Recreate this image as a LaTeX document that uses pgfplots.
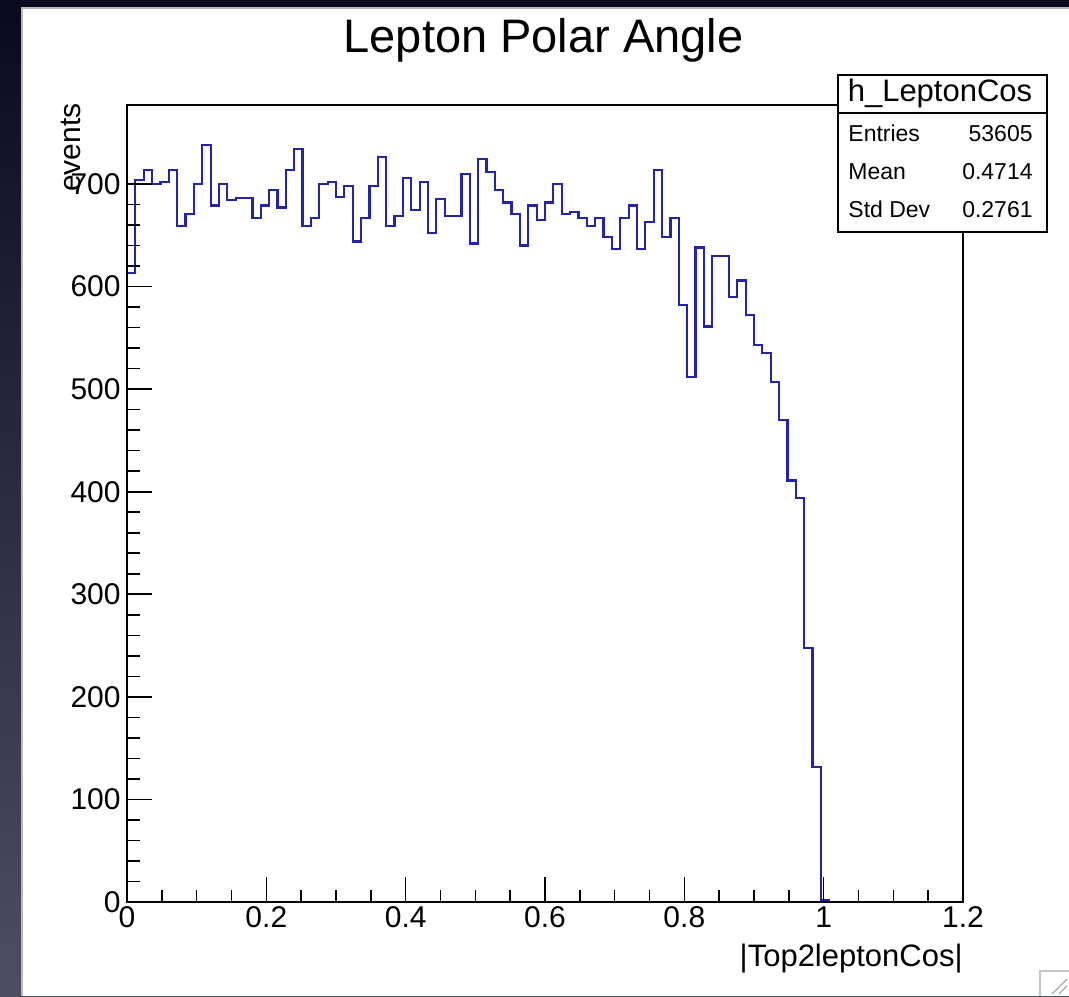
\documentclass[border=0pt]{standalone}
\usepackage{pgfplots}
\pgfplotsset{compat=1.18}
\usepackage{pgfplotstable}
\usepackage{fontspec}
\setmainfont{Liberation Sans}
\definecolor{histblue}{RGB}{35,35,175}
\definecolor{bgtop}{RGB}{10,10,30}
\definecolor{bgbot}{RGB}{78,78,98}

\pgfplotstableread{
x y
0 0
0 613
0.012 704
0.024 714
0.036 700
0.048 702
0.06 714
0.072 659
0.084 671
0.096 700
0.108 738
0.12 679
0.132 700
0.144 684
0.156 686
0.168 686
0.18 667
0.192 679
0.204 694
0.216 677
0.228 714
0.24 734
0.252 659
0.264 667
0.276 700
0.288 702
0.3 687
0.312 698
0.324 644
0.336 667
0.348 698
0.36 726
0.372 659
0.384 669
0.396 706
0.408 675
0.42 702
0.432 652
0.444 685
0.456 669
0.468 669
0.48 710
0.492 642
0.504 724
0.516 712
0.528 694
0.54 682
0.552 671
0.564 640
0.576 679
0.588 665
0.6 682
0.612 700
0.624 671
0.636 673
0.648 667
0.66 659
0.672 667
0.684 648
0.696 637
0.708 667
0.72 679
0.732 637
0.744 663
0.756 714
0.768 648
0.78 667
0.792 582
0.804 512
0.816 638
0.828 561
0.84 630
0.852 630
0.864 590
0.876 606
0.888 572
0.9 543
0.912 535
0.924 507
0.936 470
0.948 411
0.96 394
0.972 248
0.984 132
0.996 2
1.008 0
}\histdata

\begin{document}
\begin{tikzpicture}
\useasboundingbox (0,0) rectangle (534.5pt,498pt);
\shade[top color=bgtop, bottom color=bgbot] (0,0) rectangle (534.5pt,498pt);
\fill[white] (11pt,0) rectangle (534.5pt,494pt);
\draw[gray!55, line width=0.7pt] (11pt,0) -- (11pt,494pt) -- (534.5pt,494pt);
\begin{axis}[
  at={(63.5pt,47pt)}, anchor=south west,
  scale only axis, width=418pt, height=398.5pt,
  xmin=0, xmax=1.2, ymin=0, ymax=777,
  axis line style={line width=0.8pt},
  axis on top,
  xtick={0,0.2,0.4,0.6,0.8,1,1.2},
  xticklabels={0,0.2,0.4,0.6,0.8,1,1.2},
  ytick={0,100,200,300,400,500,600,700},
  yticklabels={0,100,200,300,400,500,600,700},
  minor x tick num=3, minor y tick num=4,
  tick align=inside, xtick pos=bottom, ytick pos=left,
  major tick length=12.5pt, minor tick length=6.25pt,
  tick style={black, line width=0.8pt},
  /pgf/number format/assume math mode=true,
  tick label style={font=\fontsize{15}{18}\selectfont},
  xticklabel style={inner sep=2pt},
  yticklabel style={inner sep=3pt},
]
\addplot[const plot mark left, histblue, line width=1.1pt] table[x=x,y=y] {\histdata};
\end{axis}
\node[anchor=base, inner sep=0, font=\fontsize{23.5}{28}\selectfont] at (271.75pt,471.5pt) {Lepton Polar Angle};
\node[rotate=90, anchor=base east, inner sep=0, font=\fontsize{15}{18}\selectfont] at (40pt,446.5pt) {events};
\node[anchor=base east, inner sep=0, font=\fontsize{15.5}{18}\selectfont] at (481.5pt,14.7pt) {|Top2leptonCos|};
% stats box
\draw[fill=white, line width=0.8pt] (419pt,382pt) rectangle (523.5pt,460.5pt);
\draw[line width=0.8pt] (419pt,441.5pt) -- (523.5pt,441.5pt);
\node[anchor=base, inner sep=0, font=\fontsize{15.5}{18}\selectfont] at (470pt,447pt) {h\_LeptonCos};
\node[anchor=base west, inner sep=0, font=\fontsize{11.5}{13}\selectfont] at (424pt,427pt) {Entries};
\node[anchor=base east, inner sep=0, font=\fontsize{11.5}{13}\selectfont] at (516.5pt,427pt) {53605};
\node[anchor=base west, inner sep=0, font=\fontsize{11.5}{13}\selectfont] at (424pt,408pt) {Mean};
\node[anchor=base east, inner sep=0, font=\fontsize{11.5}{13}\selectfont] at (516.5pt,408pt) {0.4714};
\node[anchor=base west, inner sep=0, font=\fontsize{11.5}{13}\selectfont] at (424pt,389pt) {Std Dev};
\node[anchor=base east, inner sep=0, font=\fontsize{11.5}{13}\selectfont] at (516.5pt,389pt) {0.2761};
% resize grip
\draw[gray!45, line width=0.6pt] (520pt,0) -- (520pt,12.5pt) -- (534.5pt,12.5pt);
\draw[gray!70, line width=0.6pt] (526pt,1pt) -- (533.5pt,8.5pt);
\draw[gray!70, line width=0.6pt] (529.5pt,1pt) -- (533.5pt,5pt);
\end{tikzpicture}
\end{document}
